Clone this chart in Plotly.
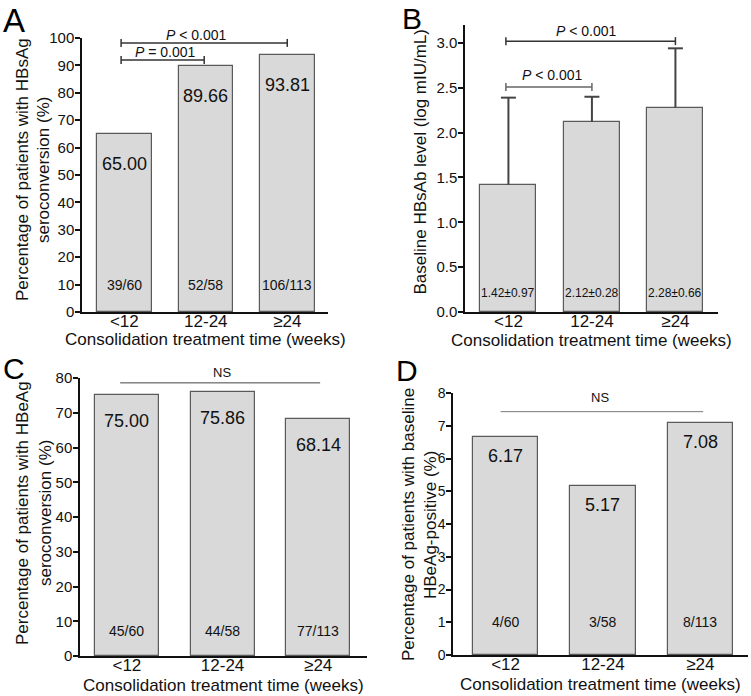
import plotly.graph_objects as go

W, H = 751, 696
FONT = "Arial, Liberation Sans, sans-serif"

categories = ["&lt;12", "12-24", "≥24"]
xpos = [0, 1, 2]

# Panel A
a_values = [65.00, 89.66, 93.81]
a_labels = ["65.00", "89.66", "93.81"]
a_counts = ["39/60", "52/58", "106/113"]
# Panel B
b_means = [1.42, 2.12, 2.28]
b_sd = [0.97, 0.28, 0.66]
b_labels = ["1.42±0.97", "2.12±0.28", "2.28±0.66"]
# Panel C
c_values = [75.00, 75.86, 68.14]
c_labels = ["75.00", "75.86", "68.14"]
c_counts = ["45/60", "44/58", "77/113"]
# Panel D (bar heights as drawn; labels as printed)
d_values = [6.67, 5.17, 7.08]
d_labels = ["6.17", "5.17", "7.08"]
d_counts = ["4/60", "3/58", "8/113"]

xtitle = "Consolidation treatment time (weeks)"

def px_x(p):
    return p / W

def px_y(p):
    return 1 - p / H

panels = {
    "A": dict(x=(82, 328), y=(38, 312), xr=(-0.52, 2.50), yr=(0, 100), dtick=10, fmt=None, tf=15),
    "B": dict(x=(465, 718), y=(25, 312), xr=(-0.52, 2.51), yr=(0, 3.2), dtick=0.5, fmt=".1f", tf=15),
    "C": dict(x=(80, 367), y=(378, 656), xr=(-0.49, 2.51), yr=(0, 80), dtick=10, fmt=None, tf=15),
    "D": dict(x=(453, 748), y=(393, 655), xr=(-0.54, 2.49), yr=(0, 8), dtick=1, fmt=None, tf=14),
}
axid = {"A": ("x", "y"), "B": ("x2", "y2"), "C": ("x3", "y3"), "D": ("x4", "y4")}

fig = go.Figure()
BAR_FILL = "#d9d9d9"
BAR_LINE = "#5a5a5a"

def add_bars(key, vals):
    xa, ya = axid[key]
    fig.add_trace(go.Bar(x=xpos, y=vals, width=0.67, marker=dict(color=BAR_FILL, line=dict(color=BAR_LINE, width=1.2)),
                         xaxis=xa, yaxis=ya, showlegend=False, hoverinfo="skip"))

add_bars("A", a_values)
add_bars("B", b_means)
add_bars("C", c_values)
add_bars("D", d_values)

layout_axes = {}
for i, key in enumerate(["A", "B", "C", "D"]):
    p = panels[key]
    sfx = "" if i == 0 else str(i + 1)
    layout_axes["xaxis" + sfx] = dict(
        domain=[px_x(p["x"][0]), px_x(p["x"][1])], range=list(p["xr"]), anchor="y" + sfx,
        tickvals=xpos, ticktext=categories, ticks="", ticklabelstandoff=-7, automargin=False,
        showline=True, linecolor="#111", linewidth=1.5,
        showgrid=False, zeroline=False, tickfont=dict(family=FONT, size=17, color="#111"), fixedrange=True)
    ykw = dict(
        domain=[px_y(p["y"][1]), px_y(p["y"][0])], range=list(p["yr"]), anchor="x" + sfx,
        dtick=p["dtick"], tick0=0, ticks="outside", ticklen=5, tickwidth=1.5, tickcolor="#111",
        ticklabelstandoff=-2, automargin=False,
        showline=True, linecolor="#111", linewidth=1.5, showgrid=False, zeroline=False,
        tickfont=dict(family=FONT, size=p["tf"], color="#111"), fixedrange=True)
    if p["fmt"]:
        ykw["tickformat"] = p["fmt"]
    layout_axes["yaxis" + sfx] = ykw

annotations = []
shapes = []

def ann(text, x, y, xref, yref, size, **kw):
    d = dict(text=text, x=x, y=y, xref=xref, yref=yref, showarrow=False,
             font=dict(family=FONT, size=size, color=kw.pop("color", "#111")))
    d.update(kw)
    annotations.append(d)

def px_per_unit(key):
    p = panels[key]
    return (p["y"][1] - p["y"][0]) / (p["yr"][1] - p["yr"][0])

def px_per_xunit(key):
    p = panels[key]
    return (p["x"][1] - p["x"][0]) / (p["xr"][1] - p["xr"][0])

def bracket(key, x0, x1, y, color="#333", width=1.5, ticks=True):
    xa, ya = axid[key]
    d = 4 / px_per_unit(key)
    shapes.append(dict(type="line", xref=xa, yref=ya, x0=x0, x1=x1, y0=y, y1=y, line=dict(color=color, width=width)))
    if ticks:
        for xx in (x0, x1):
            shapes.append(dict(type="line", xref=xa, yref=ya, x0=xx, x1=xx, y0=y - d, y1=y + d,
                               line=dict(color=color, width=width)))

# Upper-only error bars for panel B (drawn on the B axes from the mean/SD arrays)
cap = 7.5 / px_per_xunit("B")
for x, m, s in zip(xpos, b_means, b_sd):
    shapes.append(dict(type="line", xref="x2", yref="y2", x0=x, x1=x, y0=m, y1=m + s,
                       line=dict(color="#444", width=2)))
    shapes.append(dict(type="line", xref="x2", yref="y2", x0=x - cap, x1=x + cap, y0=m + s, y1=m + s,
                       line=dict(color="#444", width=2)))

def bar_labels(key, vals, labels, shift, size):
    xa, ya = axid[key]
    for x, v, t in zip(xpos, vals, labels):
        ann(t, x, v, xa, ya, size, yanchor="middle", yshift=-shift)

def count_labels(key, labels, shift, size):
    xa, ya = axid[key]
    for x, t in zip(xpos, labels):
        ann(t, x, 0, xa, ya, size, yanchor="middle", yshift=shift)

bar_labels("A", a_values, a_labels, 30, 18)
count_labels("A", a_counts, 27, 14)
count_labels("B", b_labels, 19, 12)
bar_labels("C", c_values, c_labels, 26, 18)
count_labels("C", c_counts, 25, 14)
bar_labels("D", d_values, d_labels, 19, 18)
count_labels("D", d_counts, 33, 14)

# Significance brackets
bracket("A", -0.04, 0.98, 92.0)
bracket("A", -0.04, 2.0, 98.2)
ann("<i>P</i> = 0.001", 0.51, 92.0, "x", "y", 14, yanchor="middle", yshift=8)
ann("<i>P</i> &lt; 0.001", 0.89, 98.2, "x", "y", 14, yanchor="middle", yshift=8)

bracket("B", -0.03, 1.0, 2.51, color="#666")
bracket("B", -0.03, 2.0, 3.02, color="#333")
ann("<i>P</i> &lt; 0.001", 0.53, 2.51, "x2", "y2", 14, yanchor="middle", yshift=12)
ann("<i>P</i> &lt; 0.001", 0.94, 3.02, "x2", "y2", 14, yanchor="middle", yshift=10)

bracket("C", -0.07, 2.02, 78.6, color="#444", width=1, ticks=False)
ann("NS", 0.99, 78.6, "x3", "y3", 13, yanchor="middle", yshift=10)
bracket("D", -0.05, 2.03, 7.43, color="#777", width=1, ticks=False)
ann("NS", 0.97, 7.43, "x4", "y4", 13, yanchor="middle", yshift=14)

# Axis titles (each line placed separately)
xt = {"A": 27, "B": 28, "C": 29, "D": 29}
ytitles = {
    "A": [("Percentage of patients with HBsAg", -60, -5), ("seroconversion (%)", -39, -5)],
    "B": [("Baseline HBsAb level (log mIU/mL)", -45, -6)],
    "C": [("Percentage of patients with HBeAg", -58, -4), ("seroconversion (%)", -35, -4)],
    "D": [("Percentage of patients with baseline", -45, 1), ("HBeAg-positive (%)", -23, 1)],
}
for key in ["A", "B", "C", "D"]:
    xa, ya = axid[key]
    ann(xtitle, 0.5, 0, xa + " domain", ya + " domain", 17, yanchor="middle", yshift=-xt[key])
    for t, xs, ys in ytitles[key]:
        ann(t, 0, 0.5, xa + " domain", ya + " domain", 17, xanchor="center", yanchor="middle",
            xshift=xs, yshift=-ys, textangle=-90)

# Panel letters
ann("A", px_x(14), 1, "paper", "paper", 33, xanchor="center", yanchor="top", color="#000")
ann("B", px_x(412), 1, "paper", "paper", 30, xanchor="center", yanchor="top", color="#000")
ann("C", px_x(14), px_y(368), "paper", "paper", 30, xanchor="center", yanchor="middle", color="#000")
ann("D", px_x(407), px_y(370), "paper", "paper", 30, xanchor="center", yanchor="middle", color="#000")

fig.update_layout(
    width=W, height=H, autosize=False,
    margin=dict(l=0, r=0, t=0, b=0, pad=0, autoexpand=False),
    paper_bgcolor="white", plot_bgcolor="white",
    annotations=annotations, shapes=shapes, bargap=0, showlegend=False,
    font=dict(family=FONT, color="#111"),
    **layout_axes,
)

fig.write_html("out.html", config={"displayModeBar": False, "responsive": False},
               post_script="document.body.style.margin='0';document.body.style.padding='0';")
